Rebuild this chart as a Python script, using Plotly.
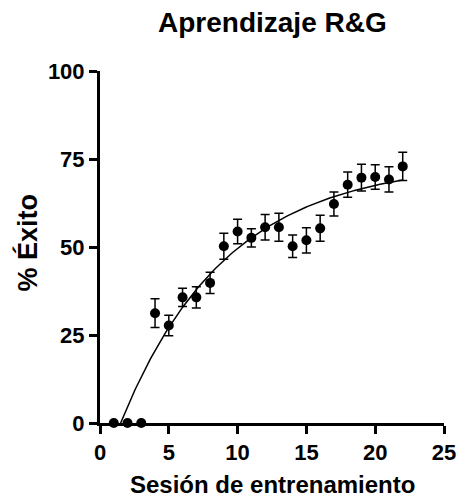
import numpy as np
import plotly.graph_objects as go

# Data
sessions = [1, 2, 3, 4, 5, 6, 7, 8, 9, 10, 11, 12, 13, 14, 15, 16, 17, 18, 19, 20, 21, 22]
success = [0, 0, 0, 31.2, 27.7, 35.7, 35.7, 39.8, 50.2, 54.4, 52.6, 55.6, 55.6, 50.2,
           51.9, 55.3, 62.2, 67.7, 69.7, 69.9, 69.2, 72.9]
sem = [0, 0, 0, 4.1, 2.9, 2.6, 3.0, 3.0, 3.7, 3.5, 2.6, 3.6, 4.0, 3.2,
       3.6, 3.7, 3.4, 3.6, 3.8, 3.5, 3.6, 4.0]

# One-phase association fit
FIT_YMAX = 74.2
FIT_K = 0.13
FIT_X0 = 1.5
FIT_XEND = 22

x_ticks = [0, 5, 10, 15, 20, 25]
y_ticks = [0, 25, 50, 75, 100]

title_text = "Aprendizaje R&G"
x_title = "Sesión de entrenamiento"
y_title = "% Éxito"

FONT = "Liberation Sans, Arial, sans-serif"

xc = np.linspace(FIT_X0, FIT_XEND, 200)
yc = FIT_YMAX * (1 - np.exp(-FIT_K * (xc - FIT_X0)))

fig = go.Figure()
fig.add_trace(go.Scatter(x=xc, y=yc, mode="lines",
                         line=dict(color="black", width=1.5),
                         hoverinfo="skip", cliponaxis=False))
fig.add_trace(go.Scatter(x=sessions, y=success, mode="markers",
                         marker=dict(color="black", size=10),
                         error_y=dict(type="data", array=sem, visible=True,
                                      color="black", thickness=1.5, width=4.5),
                         cliponaxis=False))

axis_common = dict(showline=True, linecolor="black", linewidth=3,
                   ticks="outside", ticklen=8, tickwidth=3, tickcolor="black",
                   showgrid=False, zeroline=False,
                   tickfont=dict(family=FONT, size=22, color="black"))

fig.update_layout(
    width=468, height=497,
    margin=dict(l=100, r=15, t=71, b=74),
    plot_bgcolor="white", paper_bgcolor="white",
    showlegend=False,
    xaxis=dict(range=[0, 25], tickvals=x_ticks,
               ticktext=[f"<b>{v}</b>" for v in x_ticks], **axis_common),
    yaxis=dict(range=[0, 100], tickvals=y_ticks,
               ticktext=[f"<b>{v}</b>" for v in y_ticks], **axis_common),
    annotations=[
        dict(text=f"<b>{title_text}</b>", xref="paper", yref="paper", x=0.5, y=1.139,
             xanchor="center", yanchor="middle", showarrow=False,
             font=dict(family=FONT, size=28, color="black")),
        dict(text=f"<b>{x_title}</b>", xref="paper", yref="paper", x=0.5, y=-0.175,
             xanchor="center", yanchor="middle", showarrow=False,
             font=dict(family=FONT, size=24, color="black")),
        dict(text=f"<b>{y_title}</b>", xref="paper", yref="paper", x=-0.21, y=0.512,
             xanchor="center", yanchor="middle", showarrow=False, textangle=-90,
             font=dict(family=FONT, size=27, color="black")),
    ],
)

fig.write_html("out.html")
